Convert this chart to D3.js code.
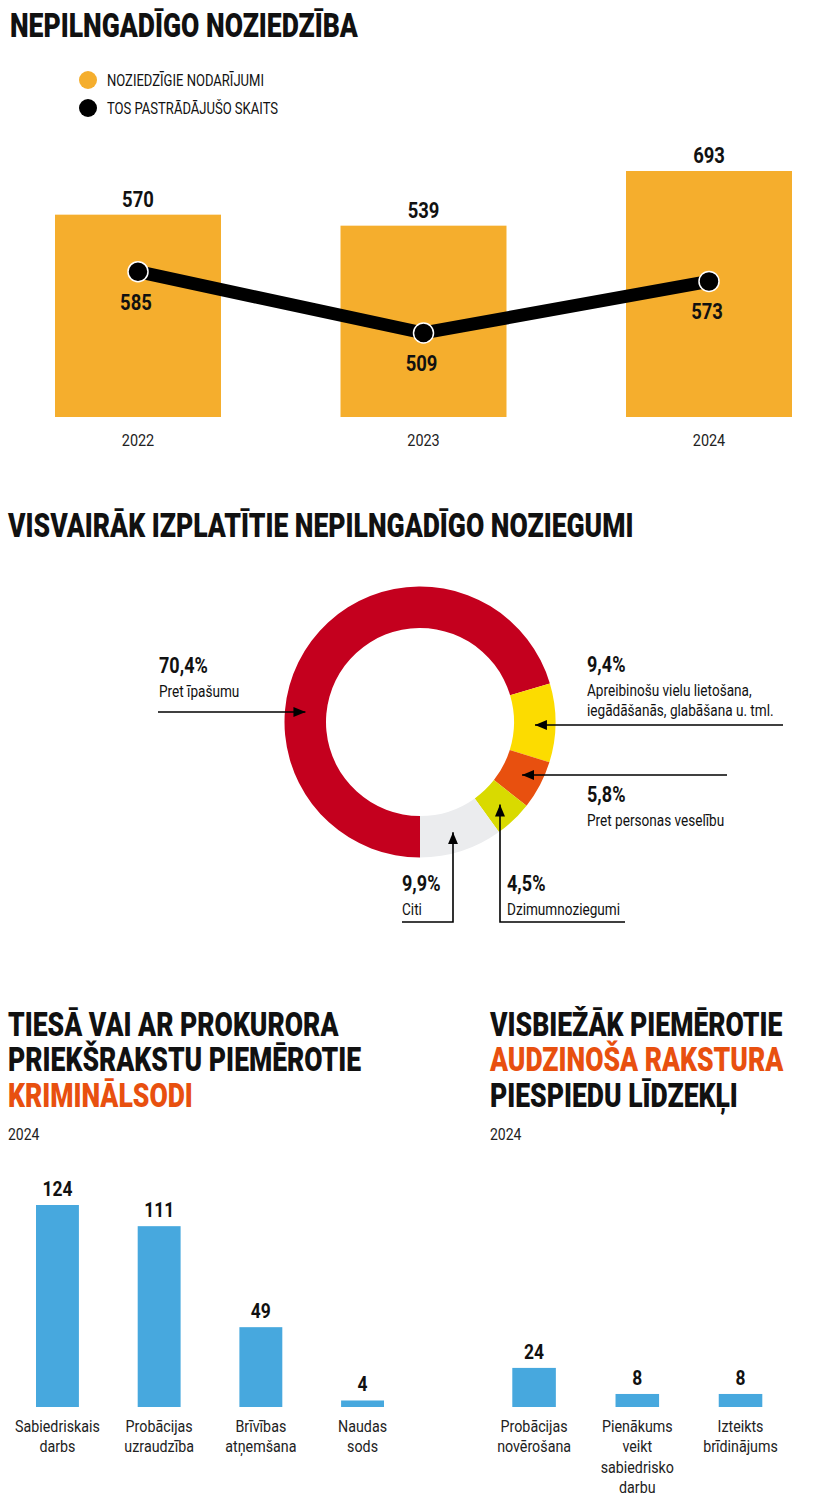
<!DOCTYPE html>
<html lang="lv">
<head>
<meta charset="UTF-8" />
<title>Nepilngadīgo noziedzība</title>
<style>
  body { margin: 0; background: #fff; }
  svg { display: block; }
</style>
</head>
<body>
<svg id="chart" width="820" height="1506" viewBox="0 0 820 1506"></svg>
<script src="https://cdn.jsdelivr.net/npm/d3@7"></script>
<script>
// --- data ---
var years = ['2022', '2023', '2024'];
var offences = [570, 539, 693];   // noziedzīgie nodarījumi
var offenders = [585, 509, 573];  // tos pastrādājušo skaits

var crimeNames = [
  'Pret īpašumu',
  'Apreibinošu vielu lietošana,\niegādāšanās, glabāšana u. tml.',
  'Pret personas veselību',
  'Dzimumnoziegumi',
  'Citi'
];
var crimeShares = [70.4, 9.4, 5.8, 4.5, 9.9];
var crimeColors = ['#c4001e', '#fcdc00', '#e8500f', '#d9da00', '#ebecee'];

var penalties = ['Sabiedriskais\ndarbs', 'Probācijas\nuzraudzība', 'Brīvības\natņemšana', 'Naudas\nsods'];
var penaltyCounts = [124, 111, 49, 4];

var measures = ['Probācijas\nnovērošana', 'Pienākums\nveikt\nsabiedrisko\ndarbu', 'Izteikts\nbrīdinājums'];
var measureCounts = [24, 8, 8];

var ORANGE = '#f5ae2d', BLUE = '#47a8de', ACCENT = '#e8500f', INK = '#111';
var FONT = "Roboto, 'Noto Sans', sans-serif";

var svg = d3.select('#chart');

// condensed look: Roboto squeezed horizontally
function txt(g, x, y, s, o) {
  o = o || {};
  var t = g.append('text')
    .attr('transform', 'translate(' + x + ',' + y + ') scale(' + (o.sx || 0.84) + ',1)')
    .attr('text-anchor', o.anchor || 'start')
    .attr('fill', o.fill || INK)
    .style('font-family', FONT)
    .style('font-size', (o.size || 17) + 'px')
    .style('font-weight', o.weight || 400);
  var lines = Array.isArray(s) ? s : String(s).split('\n');
  t.selectAll('tspan').data(lines).join('tspan')
    .attr('x', 0)
    .attr('dy', function(d, i) { return i ? (o.lh || 20) : 0; })
    .attr('fill', function(d) { return Array.isArray(d) ? d[1] : null; })
    .text(function(d) { return Array.isArray(d) ? d[0] : d; });
  return t;
}
// lines: array of [text, colour]
function title(g, x, y, lines) {
  return txt(g, x, y, lines, { size: 34, weight: 900, sx: 0.78, lh: 35.5 });
}

// ================= 1. Nepilngadīgo noziedzība =================
var gTop = svg.append('g');
title(gTop, 10, 37, [['NEPILNGADĪGO NOZIEDZĪBA', INK]]);

var legend = [['NOZIEDZĪGIE NODARĪJUMI', ORANGE], ['TOS PASTRĀDĀJUŠO SKAITS', '#000']];
legend.forEach(function(d, i) {
  gTop.append('circle').attr('cx', 88).attr('cy', 80 + i * 28).attr('r', 9).attr('fill', d[1]);
  txt(gTop, 107, 86 + i * 27.5, d[0], { size: 16.5, sx: 0.79 });
});

var x1 = d3.scaleBand().domain(years).range([55, 792]).paddingInner(0.4186).paddingOuter(0);
var yBar = d3.scaleLinear().domain([0, 693]).range([417, 171]);
var yLine = d3.scaleLinear().domain([509, 585]).range([333, 271.7]);

gTop.append('g').selectAll('rect').data(years).join('rect')
  .attr('x', function(d) { return x1(d); })
  .attr('y', function(d, i) { return yBar(offences[i]); })
  .attr('width', x1.bandwidth())
  .attr('height', function(d, i) { return yBar(0) - yBar(offences[i]); })
  .attr('fill', ORANGE);

years.forEach(function(d, i) {
  var c = x1(d) + x1.bandwidth() / 2;
  txt(gTop, c, yBar(offences[i]) - 8, offences[i], { size: 22.5, weight: 700, sx: 0.82, anchor: 'middle' });
  txt(gTop, c, 446, d, { size: 17, sx: 0.85, anchor: 'middle', fill: '#222' });
});

var line = d3.line()
  .x(function(d, i) { return x1(years[i]) + x1.bandwidth() / 2; })
  .y(function(d) { return yLine(d); });
gTop.append('path').datum(offenders).attr('d', line)
  .attr('fill', 'none').attr('stroke', '#000').attr('stroke-width', 13);
gTop.append('g').selectAll('circle').data(offenders).join('circle')
  .attr('cx', function(d, i) { return x1(years[i]) + x1.bandwidth() / 2; })
  .attr('cy', function(d) { return yLine(d); })
  .attr('r', 10).attr('fill', '#000').attr('stroke', '#fff').attr('stroke-width', 1.5);
offenders.forEach(function(v, i) {
  txt(gTop, x1(years[i]) + x1.bandwidth() / 2 - 2, yLine(v) + 38, v, { size: 22.5, weight: 700, sx: 0.82, anchor: 'middle' });
});

// ================= 2. Donut =================
var gMid = svg.append('g');
title(gMid, 8, 537, [['VISVAIRĀK IZPLATĪTIE NEPILNGADĪGO NOZIEGUMI', INK]]);

var cx = 420, cy = 722, R = 135.5, r0 = 94, rm = 115;
var pie = d3.pie().sort(null).startAngle(Math.PI).endAngle(3 * Math.PI);
var arc = d3.arc().innerRadius(r0).outerRadius(R);
var arcs = pie(crimeShares);

var donut = gMid.append('g').attr('transform', 'translate(' + cx + ',' + cy + ')');
donut.selectAll('path').data(arcs).join('path')
  .attr('d', arc)
  .attr('fill', function(d, i) { return crimeColors[i]; });

svg.append('defs').append('marker')
  .attr('id', 'arrow').attr('viewBox', '0 0 12 10')
  .attr('refX', 12).attr('refY', 5)
  .attr('markerWidth', 12).attr('markerHeight', 10)
  .attr('markerUnits', 'userSpaceOnUse')
  .attr('orient', 'auto')
  .append('path').attr('d', 'M0,0L12,5L0,10Z').attr('fill', '#000');

// annotation layout: text anchor + leader line (tip lands on ring mid radius)
var notes = [
  { tx: 159, ty: 673, kind: 'h', y: 712, from: 158, side: -1 },
  { tx: 587, ty: 672, kind: 'h', y: 725, from: 783, side: 1 },
  { tx: 587, ty: 802, kind: 'h', y: 775, from: 727, side: 1 },
  { tx: 507, ty: 891, kind: 'v', x: 500, foot: 922, end: 625 },
  { tx: 402, ty: 891, kind: 'v', x: 453, foot: 922, end: 402 }
];
var lead = d3.line();
notes.forEach(function(n, i) {
  var pts;
  if (n.kind === 'h') {
    var dy = n.y - cy;
    var tipX = cx + n.side * Math.sqrt(rm * rm - dy * dy);
    pts = [[n.from, n.y], [tipX, n.y]];
  } else {
    var dx = n.x - cx;
    var tipY = cy + Math.sqrt(rm * rm - dx * dx);
    pts = [[n.end, n.foot], [n.x, n.foot], [n.x, tipY]];
  }
  gMid.append('path').attr('d', lead(pts))
    .attr('fill', 'none').attr('stroke', '#000').attr('stroke-width', 1.6)
    .attr('marker-end', 'url(#arrow)');
  txt(gMid, n.tx, n.ty, d3.format('.1f')(crimeShares[i]).replace('.', ',') + '%', { size: 22, weight: 700, sx: 0.82 });
  txt(gMid, n.tx, n.ty + 23.5, crimeNames[i], { size: 17, sx: 0.8, lh: 21 });
});

// ================= 3. Kriminālsodi =================
var gLeft = svg.append('g');
title(gLeft, 8, 1036, [['TIESĀ VAI AR PROKURORA', INK], ['PRIEKŠRAKSTU PIEMĒROTIE', INK], ['KRIMINĀLSODI', ACCENT]]);
txt(gLeft, 8, 1140, '2024', { size: 16.5, sx: 0.85, fill: '#222' });

var yCount = d3.scaleLinear().domain([0, 124]).range([1407, 1205]);

function barChart(g, names, values, range) {
  var xs = d3.scaleBand().domain(names).range(range).paddingInner(0.578).paddingOuter(0);
  g.append('g').selectAll('rect').data(names).join('rect')
    .attr('x', function(d) { return xs(d); })
    .attr('y', function(d, i) { return yCount(values[i]); })
    .attr('width', xs.bandwidth())
    .attr('height', function(d, i) { return yCount(0) - yCount(values[i]); })
    .attr('fill', BLUE);
  names.forEach(function(d, i) {
    var c = xs(d) + xs.bandwidth() / 2;
    txt(g, c, yCount(values[i]) - 9, values[i], { size: 21, weight: 700, sx: 0.83, anchor: 'middle' });
    txt(g, c, 1432, d, { size: 17, sx: 0.84, anchor: 'middle', lh: 20.5, fill: '#222' });
  });
}
barChart(gLeft, penalties, penaltyCounts, [36, 384]);

// ================= 4. Audzinoša rakstura līdzekļi =================
var gRight = svg.append('g');
title(gRight, 490, 1036, [['VISBIEŽĀK PIEMĒROTIE', INK], ['AUDZINOŠA RAKSTURA', ACCENT], ['PIESPIEDU LĪDZEKĻI', INK]]);
txt(gRight, 490, 1140, '2024', { size: 16.5, sx: 0.85, fill: '#222' });
barChart(gRight, measures, measureCounts, [512.3, 762.3]);
</script>
</body>
</html>
